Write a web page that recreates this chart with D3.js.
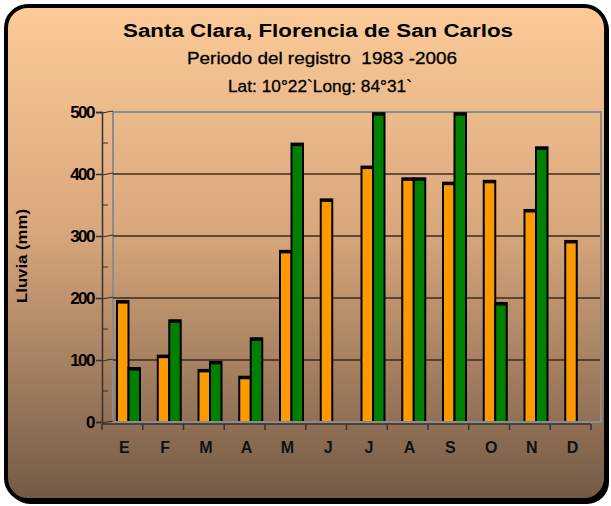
<!DOCTYPE html>
<html>
<head>
<meta charset="utf-8">
<script src="https://cdn.jsdelivr.net/npm/d3@7"></script>
<style>
  body { margin: 0; background: #fff; }
  svg { display: block; font-family: Arial, "Liberation Sans", sans-serif; }
</style>
</head>
<body>
<div id="viz"></div>
<script>
var meses = ["E", "F", "M", "A", "M", "J", "J", "A", "S", "O", "N", "D"];
var serie1 = [195, 107, 84, 73, 276, 359, 412, 393, 386, 389, 342, 292];
var serie2 = [87, 164, 97, 135, 449, 0, 498, 393, 498, 192, 443, 0];
var yTicks = [0, 100, 200, 300, 400, 500];
var titulos = ["Santa Clara, Florencia de San Carlos", "Periodo del registro \u00a01983 -2006", "Lat: 10°22`Long: 84°31`"];

var w = 611, h = 506;

var svg = d3.select('#viz').append('svg')
  .attr('width', w)
  .attr('height', h);

var defs = svg.append('defs');
var grad = defs.append('linearGradient')
  .attr('id', 'fondo')
  .attr('x1', 0).attr('y1', 0).attr('x2', 0).attr('y2', 1);
grad.append('stop').attr('offset', '0%').attr('stop-color', '#fccb98');
grad.append('stop').attr('offset', '45%').attr('stop-color', '#d9a77c');
grad.append('stop').attr('offset', '100%').attr('stop-color', '#735a46');

// sombra + marco
svg.append('rect')
  .attr('x', 8).attr('y', 8).attr('width', 601).attr('height', 496)
  .attr('rx', 22).attr('fill', '#000');
svg.append('rect')
  .attr('x', 6).attr('y', 6).attr('width', 600).attr('height', 494)
  .attr('rx', 22)
  .attr('fill', 'url(#fondo)')
  .attr('stroke', '#000').attr('stroke-width', 4);

// titulos
var tt = [{y: 37, size: 18, weight: 'bold', len: 390, x: 318},
          {y: 64, size: 17, weight: 'normal', len: 270, x: 322},
          {y: 92, size: 17, weight: 'normal', len: 184, x: 320}];
svg.selectAll('text.titulo')
  .data(titulos)
  .enter()
  .append('text')
  .attr('class', 'titulo')
  .attr('x', (d, i) => tt[i].x)
  .attr('y', (d, i) => tt[i].y)
  .attr('text-anchor', 'middle')
  .attr('font-size', (d, i) => tt[i].size)
  .attr('font-weight', (d, i) => tt[i].weight)
  .attr('textLength', (d, i) => tt[i].len)
  .attr('lengthAdjust', 'spacingAndGlyphs')
  .attr('stroke', (d, i) => i > 0 ? '#000' : 'none')
  .attr('stroke-width', 0.3)
  .attr('fill', '#000')
  .text(d => d);

var x0 = 102, x1 = 591, y0 = 422, yTop = 112;
var depth = 11;

var x = d3.scaleBand()
  .domain(d3.range(meses.length))
  .range([x0, x1]);

var y = d3.scaleLinear()
  .domain([0, 500])
  .range([y0, yTop]);

// pared de fondo
svg.append('rect')
  .attr('x', x0 + depth).attr('y', y(500))
  .attr('width', 601 - x0 - depth).attr('height', y(0) - y(500))
  .attr('fill', 'none')
  .attr('stroke', '#8c8c8c').attr('stroke-width', 2);

// rejilla
svg.selectAll('line.grid')
  .data(yTicks.filter(d => d > 0 && d < 500))
  .enter()
  .append('line')
  .attr('class', 'grid')
  .attr('x1', x0 + depth).attr('x2', 600)
  .attr('y1', d => y(d)).attr('y2', d => y(d))
  .attr('stroke', '#3b2a1f').attr('stroke-width', 1.5);

// lineas de profundidad
svg.selectAll('line.prof')
  .data(yTicks)
  .enter()
  .append('line')
  .attr('class', 'prof')
  .attr('x1', x0).attr('x2', x0 + depth)
  .attr('y1', d => y(d) + 1).attr('y2', d => y(d) - 1)
  .attr('stroke', '#3b2a1f').attr('stroke-width', 1);

// barras
var inner = d3.scaleBand()
  .domain([0, 1])
  .range([0, 23]);

var grupos = svg.selectAll('g.mes')
  .data(meses.map((m, i) => ({i: i, vals: [serie1[i], serie2[i]]})))
  .enter()
  .append('g')
  .attr('class', 'mes')
  .attr('transform', d => 'translate(' + (x(d.i) + 15) + ',0)');

var colores = ['#ff9900', '#008000'];

grupos.selectAll('rect')
  .data(d => d.vals.map((v, k) => ({k: k, v: v})).filter(e => e.v > 0))
  .enter()
  .append('rect')
  .attr('x', d => inner(d.k))
  .attr('y', d => y(d.v))
  .attr('width', inner.bandwidth())
  .attr('height', d => y(0) - y(d.v))
  .attr('fill', d => colores[d.k])
  .attr('stroke', '#000')
  .attr('stroke-width', 2);

grupos.selectAll('line.tapa')
  .data(d => d.vals.map((v, k) => ({k: k, v: v})).filter(e => e.v > 0))
  .enter()
  .append('line')
  .attr('class', 'tapa')
  .attr('x1', d => inner(d.k))
  .attr('x2', d => inner(d.k) + inner.bandwidth())
  .attr('y1', d => y(d.v) + 1)
  .attr('y2', d => y(d.v) + 1)
  .attr('stroke', '#000')
  .attr('stroke-width', 3);

// suelo
svg.append('line')
  .attr('x1', x0 + depth).attr('x2', 601)
  .attr('y1', y0).attr('y2', y0)
  .attr('stroke', '#8c8c8c').attr('stroke-width', 2);

// eje y
var yAxis = d3.axisLeft(y)
  .tickValues(yTicks)
  .tickSize(6)
  .tickPadding(2);
var gy = svg.append('g')
  .attr('transform', 'translate(' + x0 + ',0)')
  .call(yAxis);
gy.select('.domain').attr('stroke', '#333').attr('stroke-width', 1.5);
gy.selectAll('.tick line').attr('stroke', '#333').attr('stroke-width', 1.5);
gy.selectAll('.tick text')
  .attr('font-size', 17)
  .attr('font-weight', 'bold')
  .attr('font-family', 'Arial, "Liberation Sans", sans-serif')
  .attr('letter-spacing', -1.5)
  .attr('fill', '#000');

// marcas menores
svg.selectAll('line.menor')
  .data([50, 150, 250, 350, 450])
  .enter()
  .append('line')
  .attr('class', 'menor')
  .attr('x1', x0).attr('x2', x0 + 6)
  .attr('y1', d => y(d)).attr('y2', d => y(d))
  .attr('stroke', '#333').attr('stroke-width', 1);

// eje x
svg.append('line')
  .attr('x1', x0).attr('x2', x1)
  .attr('y1', y0 + 2).attr('y2', y0 + 2)
  .attr('stroke', '#333').attr('stroke-width', 1.5);
svg.selectAll('line.xt')
  .data(d3.range(meses.length + 1))
  .enter()
  .append('line')
  .attr('class', 'xt')
  .attr('x1', d => x0 + d * x.step()).attr('x2', d => x0 + d * x.step())
  .attr('y1', y0 + 2).attr('y2', y0 + 8)
  .attr('stroke', '#333').attr('stroke-width', 1.5);

svg.selectAll('text.mes')
  .data(meses)
  .enter()
  .append('text')
  .attr('class', 'mes')
  .attr('x', (d, i) => x(i) + x.bandwidth() / 2 + 2)
  .attr('y', 453)
  .attr('text-anchor', 'middle')
  .attr('font-size', 16)
  .attr('font-weight', 'bold')
  .attr('fill', '#111')
  .text(d => d);

// titulo eje y
svg.append('text')
  .attr('transform', 'translate(27,256) rotate(-90)')
  .attr('text-anchor', 'middle')
  .attr('font-size', 14)
  .attr('font-weight', 'bold')
  .attr('textLength', 94)
  .attr('lengthAdjust', 'spacingAndGlyphs')
  .text('Lluvia (mm)');
</script>
</body>
</html>
